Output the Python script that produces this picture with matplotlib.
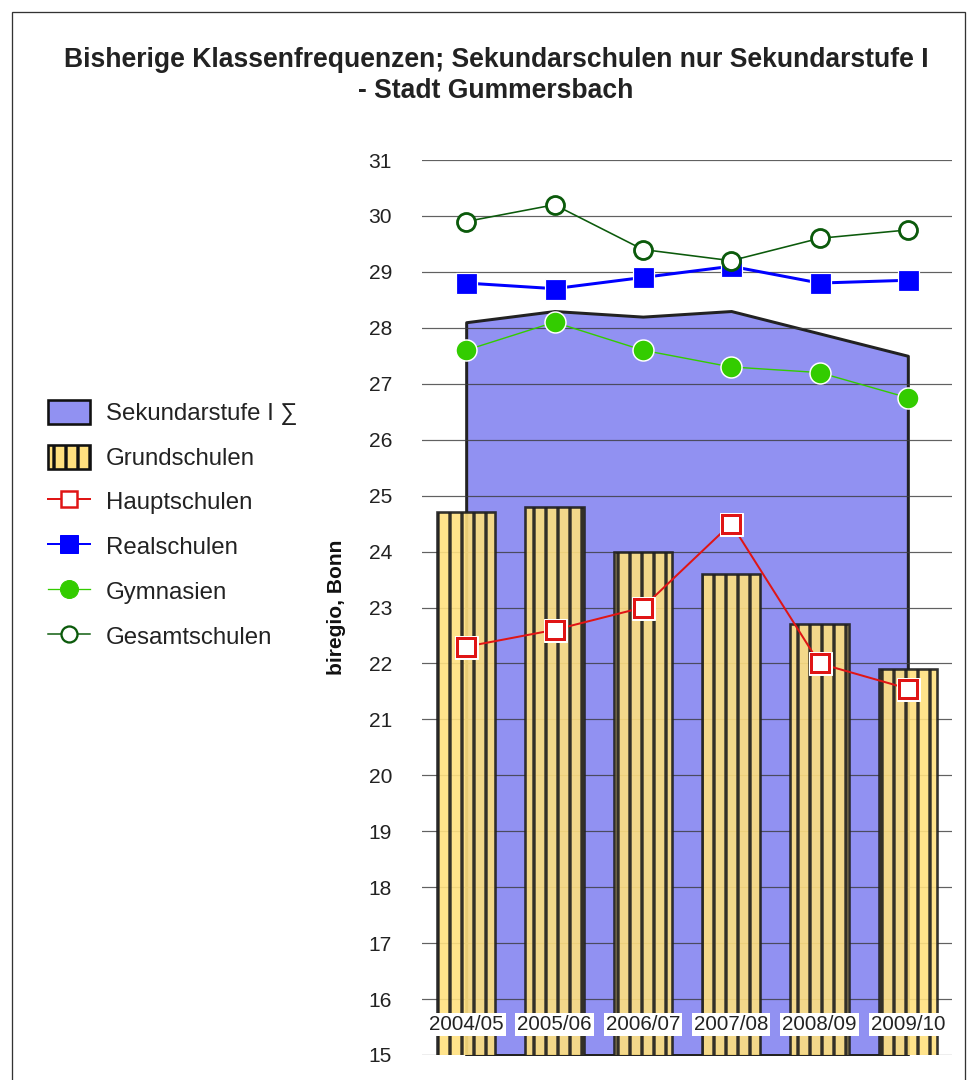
import matplotlib
matplotlib.use("Agg")
import matplotlib.pyplot as plt
from matplotlib.patches import Rectangle, Patch
from matplotlib.lines import Line2D

plt.rcParams['font.family'] = ['Liberation Sans', 'DejaVu Sans']
plt.rcParams['hatch.color'] = '#1a1a1a'
plt.rcParams['hatch.linewidth'] = 3.4

# School years
years = ["2004/05", "2005/06", "2006/07", "2007/08", "2008/09", "2009/10"]

# Average class sizes per school type
sekundarstufe = [28.1, 28.3, 28.2, 28.3, 27.9, 27.5]
grundschulen = [24.7, 24.8, 24.0, 23.6, 22.7, 21.9]
hauptschulen = [22.3, 22.6, 23.0, 24.5, 22.0, 21.55]
realschulen = [28.8, 28.7, 28.9, 29.1, 28.8, 28.85]
gymnasien = [27.6, 28.1, 27.6, 27.3, 27.2, 26.75]
gesamtschulen = [29.9, 30.2, 29.4, 29.2, 29.6, 29.75]

y_ticks = list(range(15, 32))

W, H = 967, 1080
DPI = 72
fig = plt.figure(figsize=(W / DPI, H / DPI), dpi=DPI)

# outer frame
fig.patches.append(Rectangle((12 / W, -0.05), (965 - 12) / W, 1.05 - 12 / H,
                             transform=fig.transFigure, fill=False,
                             edgecolor='#333333', linewidth=1.3))

ax = fig.add_axes([422 / W, (H - 1055) / H, 530 / W, 895 / H])
x = list(range(len(years)))

ax.fill_between(x, 15, sekundarstufe, facecolor='#9191f2', edgecolor='#222222',
                linewidth=3.0, zorder=1)

for t in y_ticks:
    ax.axhline(t, color='#3a3a3a', linewidth=1.2, alpha=0.8, zorder=2)

ax.bar(x, grundschulen, bottom=0, width=0.66, color='#ffe07f', edgecolor='#1e1e1e',
       linewidth=2.6, hatch='|', alpha=0.9, zorder=3)

ax.plot(x, hauptschulen, color='#e01515', linewidth=2.0, zorder=4)
ax.plot(x, hauptschulen, linestyle='none', marker='s', markersize=23,
        markerfacecolor='white', markeredgecolor='white', zorder=5)
ax.plot(x, hauptschulen, linestyle='none', marker='s', markersize=18,
        markerfacecolor='white', markeredgecolor='#e01515', markeredgewidth=3, zorder=6)

ax.plot(x, gymnasien, color='#33cc00', linewidth=1.4, marker='o', markersize=21,
        markerfacecolor='#33cc00', markeredgecolor='white', markeredgewidth=1.5,
        zorder=7, clip_on=False)
ax.plot(x, realschulen, color='#0000ff', linewidth=3.0, marker='s', markersize=21,
        markerfacecolor='#0000ff', markeredgecolor='white', markeredgewidth=1.2,
        zorder=8, clip_on=False)
ax.plot(x, gesamtschulen, color='#0b5a0b', linewidth=1.6, marker='o', markersize=18,
        markerfacecolor='white', markeredgecolor='#0b5a0b', markeredgewidth=2.8,
        zorder=9, clip_on=False)

ax.set_xlim(-0.5, 5.5)
ax.set_ylim(15, 31)
ax.set_yticks(y_ticks)
ax.set_yticklabels([str(t) for t in y_ticks], fontsize=21, color='#222222')
ax.tick_params(axis='y', length=0, pad=30)
ax.set_xticks([])
for s in ax.spines.values():
    s.set_visible(False)
ax.patch.set_visible(False)

for i, lab in enumerate(years):
    ax.text(i, 15.55, lab, ha='center', va='center', fontsize=20.5, color='#222222',
            zorder=10, bbox=dict(facecolor='white', edgecolor='none', pad=2))

ax.set_ylabel('biregio, Bonn', fontsize=21, fontweight='bold', color='#111111')
ax.yaxis.set_label_coords(-76 / 530, 0.5)

fig.text(0.513, 1 - 60 / H, 'Bisherige Klassenfrequenzen; Sekundarschulen nur Sekundarstufe I',
         ha='center', va='center', fontsize=26.5, fontweight='bold', color='#222222')
fig.text(0.513, 1 - 91 / H, '- Stadt Gummersbach',
         ha='center', va='center', fontsize=26.5, fontweight='bold', color='#222222')

handles = [
    Patch(facecolor='#9191f2', edgecolor='#111111', linewidth=2.6),
    Patch(facecolor='#ffe07f', edgecolor='#111111', linewidth=2.6, hatch='|'),
    Line2D([], [], color='#e01515', linewidth=2, marker='s', markersize=16,
           markerfacecolor='white', markeredgecolor='#e01515', markeredgewidth=2.5),
    Line2D([], [], color='#0000ff', linewidth=2, marker='s', markersize=18,
           markerfacecolor='#0000ff', markeredgecolor='#0000ff'),
    Line2D([], [], color='#33cc00', linewidth=1.3, marker='o', markersize=18,
           markerfacecolor='#33cc00', markeredgecolor='#33cc00'),
    Line2D([], [], color='#0b5a0b', linewidth=1.5, marker='o', markersize=16,
           markerfacecolor='white', markeredgecolor='#0b5a0b', markeredgewidth=2.3),
]
labels = ['Sekundarstufe I ∑', 'Grundschulen', 'Hauptschulen', 'Realschulen',
          'Gymnasien', 'Gesamtschulen']
fig.legend(handles, labels, loc='upper left', bbox_to_anchor=(48 / W, 1 - 400 / H),
           frameon=False, fontsize=24, handlelength=1.75, handleheight=1.15,
           handletextpad=0.65, labelspacing=0.82, borderaxespad=0, borderpad=0,
           labelcolor='#222222')

fig.savefig('out.png', dpi=DPI, facecolor='white')
